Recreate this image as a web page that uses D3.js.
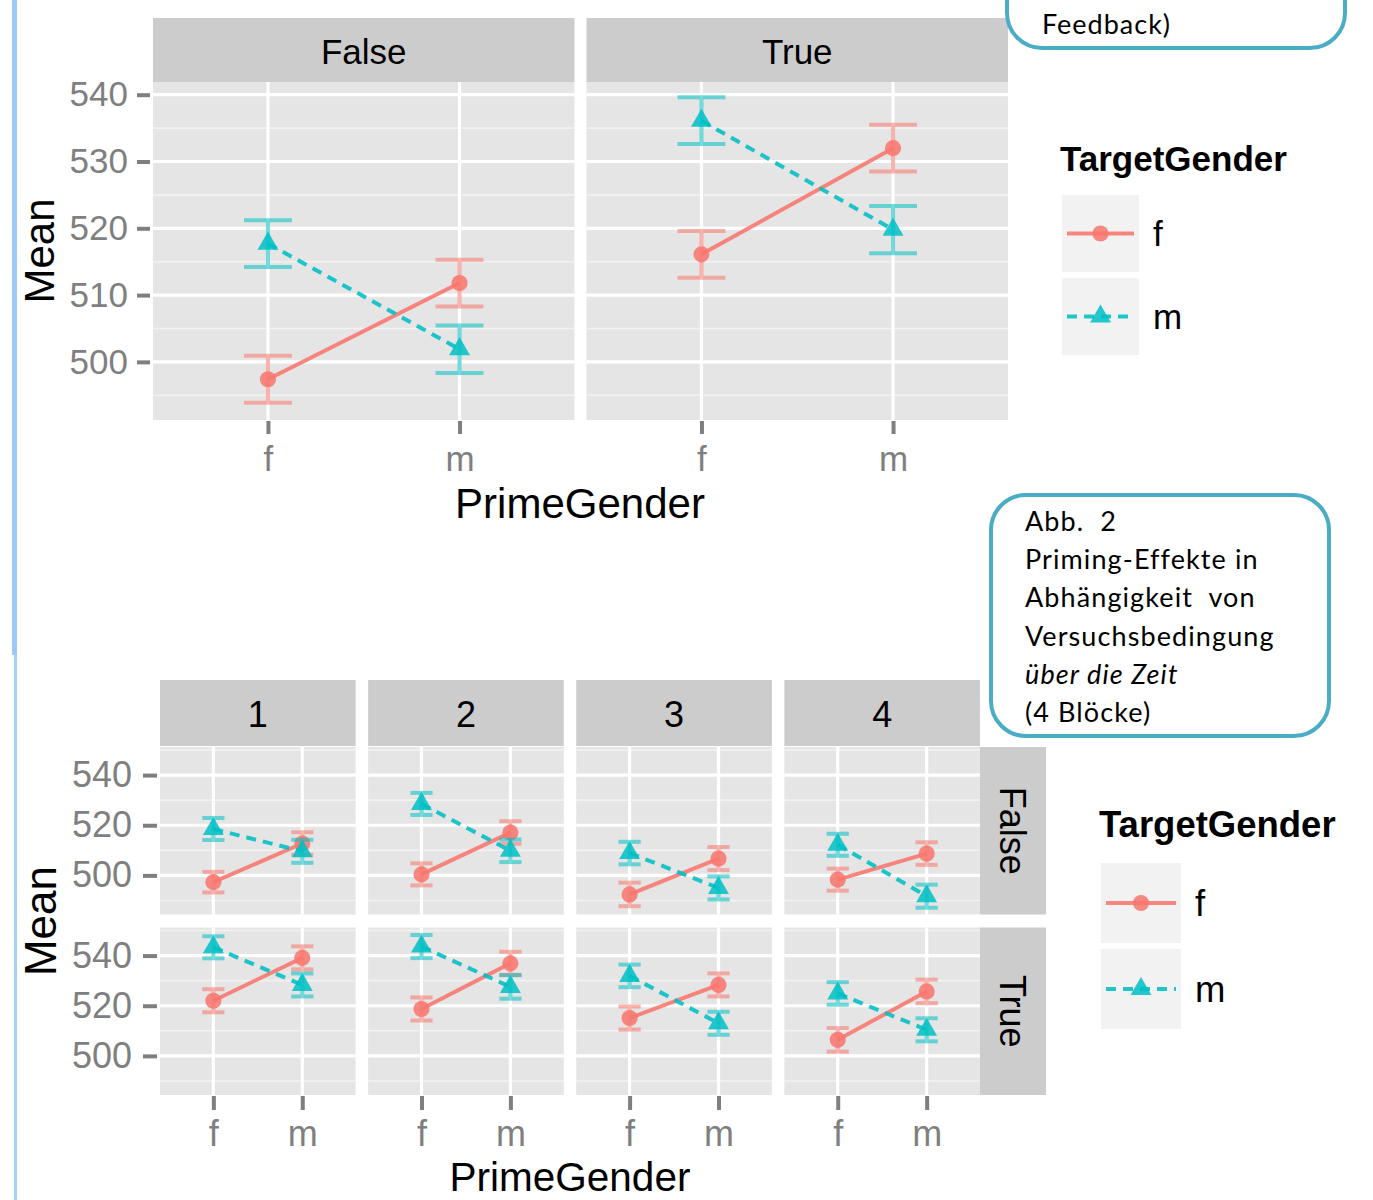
<!DOCTYPE html>
<html>
<head>
<meta charset="utf-8">
<script src="https://cdn.jsdelivr.net/npm/d3@7"></script>
<style>
body { margin: 0; background: #fff; }
svg text { font-family: 'Liberation Sans', Arial, sans-serif; }
</style>
</head>
<body>
<script>
// ---- data ----
var primeGender = ['f', 'm'];
var targetGender = ['f', 'm'];
var feedback = ['False', 'True'];
var blocks = ['1', '2', '3', '4'];

var topTicks = [500, 510, 520, 530, 540];
var topMinor = [495, 505, 515, 525, 535];
var bottomTicks = [500, 520, 540];
var bottomMinor = [490, 510, 530, 550];

// overall means, [feedback][primeGender]
var topMeanF = [[497.4, 511.8], [516.1, 532.0]];
var topMeanM = [[517.7, 501.9], [536.1, 519.8]];
var topErrF = [[3.5, 3.5], [3.5, 3.5]];
var topErrM = [[3.5, 3.55], [3.5, 3.55]];

// per block, [feedback][block][primeGender]
var blockMeanF = [
	[[497.3, 512.7], [500.4, 517.1], [492.4, 506.7], [498.3, 508.7]],
	[[522.0, 539.1], [518.7, 536.9], [515.1, 528.3], [506.4, 525.7]]
];
var blockMeanM = [
	[[518.5, 509.6], [528.5, 509.8], [508.9, 495.0], [512.2, 491.7]],
	[[543.3, 528.3], [543.6, 527.5], [531.9, 513.0], [524.9, 510.4]]
];
var blockErrF = [
	[[4.1, 4.5], [4.4, 4.5], [4.7, 4.6], [4.4, 4.5]],
	[[4.6, 4.6], [4.6, 4.6], [4.6, 4.6], [4.7, 4.7]]
];
var blockErrM = [
	[[4.4, 4.6], [4.4, 4.5], [4.5, 4.6], [4.4, 4.6]],
	[[4.4, 4.6], [4.6, 4.7], [4.5, 4.6], [4.5, 4.6]]
];

var topNote = ['Feedback)'];
var captionLines = ['Abb.  2', 'Priming-Effekte in', 'Abhängigkeit  von', 'Versuchsbedingung', 'über die Zeit', '(4 Blöcke)'];

// ---- setup ----
var colour = { f: '#F8766D', m: '#00BFC4' };
var axisGrey = '#7F7F7F';

var svg = d3.select('body')
	.append('svg')
		.attr('width', 1373)
		.attr('height', 1200);

// slide decoration on the left
svg.append('rect').attr('x', 12).attr('y', 0).attr('width', 5).attr('height', 655).attr('fill', '#9CC9F7');
svg.append('rect').attr('x', 14).attr('y', 655).attr('width', 3).attr('height', 545).attr('fill', '#A8D0F8');

// band scale with a fixed pixel gap between facets
function bands(domain, r0, r1, gap) {
	var p = gap * domain.length / (r1 - r0 + gap);
	return d3.scaleBand().domain(domain).range([r0, r1]).paddingInner(p);
}

function symbolFor(k) {
	return d3.symbol()
		.type(k == 'f' ? d3.symbolCircle : d3.symbolTriangle)
		.size(k == 'f' ? 205 : 190);
}

function drawPanel(g, x, y, w, major, minor, series, capHalf) {
	var h0 = y.range()[0], h1 = y.range()[1];
	g.append('rect')
		.attr('x', 0).attr('y', h1)
		.attr('width', w).attr('height', h0 - h1)
		.attr('fill', '#E5E5E5');

	g.selectAll('.minor').data(minor).enter().append('line')
		.attr('x1', 0).attr('x2', w)
		.attr('y1', d => y(d)).attr('y2', d => y(d))
		.attr('stroke', '#F2F2F2').attr('stroke-width', 1.6);

	g.selectAll('.major').data(major).enter().append('line')
		.attr('x1', 0).attr('x2', w)
		.attr('y1', d => y(d)).attr('y2', d => y(d))
		.attr('stroke', '#fff').attr('stroke-width', 3.2);

	g.selectAll('.vgrid').data(primeGender).enter().append('line')
		.attr('x1', d => x(d)).attr('x2', d => x(d))
		.attr('y1', h1).attr('y2', h0)
		.attr('stroke', '#fff').attr('stroke-width', 3.2);

	series.forEach(function(s) {
		var pts = primeGender.map((p, i) => ({ p: p, mean: s.mean[i], err: s.err[i] }));
		var c = colour[s.key];

		var eb = g.append('g').attr('opacity', 0.55);
		pts.forEach(function(d) {
			var cx = x(d.p);
			eb.append('line')
				.attr('x1', cx).attr('x2', cx)
				.attr('y1', y(d.mean - d.err)).attr('y2', y(d.mean + d.err))
				.attr('stroke', c).attr('stroke-width', 4);
			[d.mean - d.err, d.mean + d.err].forEach(function(v) {
				eb.append('line')
					.attr('x1', cx - capHalf).attr('x2', cx + capHalf)
					.attr('y1', y(v)).attr('y2', y(v))
					.attr('stroke', c).attr('stroke-width', 4);
			});
		});

		g.append('path')
			.datum(pts)
			.attr('d', d3.line().x(d => x(d.p)).y(d => y(d.mean)))
			.attr('fill', 'none')
			.attr('stroke', c)
			.attr('stroke-opacity', 0.88)
			.attr('stroke-width', 4)
			.attr('stroke-dasharray', s.key == 'm' ? '10,7' : null);

		g.selectAll('.pt-' + s.key).data(pts).enter().append('path')
			.attr('transform', d => `translate(${x(d.p)}, ${y(d.mean)})`)
			.attr('d', symbolFor(s.key))
			.attr('fill', c)
			.attr('fill-opacity', 0.85);
	});
}

function styleAxis(sel, size) {
	sel.select('.domain').remove();
	sel.selectAll('.tick line').attr('stroke', axisGrey).attr('stroke-width', 4);
	sel.selectAll('.tick text')
		.attr('fill', axisGrey)
		.style('font-size', size + 'px')
		.style('font-family', "'Liberation Sans', Arial, sans-serif");
}

function drawLegend(x0, titleY, keyTop, keySize, keyGap, labelX, size) {
	svg.append('text')
		.attr('x', x0).attr('y', titleY)
		.style('font-size', size + 'px').style('font-weight', 'bold')
		.text('TargetGender');
	targetGender.forEach(function(k, i) {
		var ky = keyTop + i * (keySize + keyGap);
		var kx = x0 + 2;
		svg.append('rect')
			.attr('x', kx).attr('y', ky)
			.attr('width', keySize).attr('height', keySize)
			.attr('fill', '#F2F2F2');
		var cy = ky + keySize / 2;
		svg.append('line')
			.attr('x1', kx + 5).attr('x2', kx + keySize - 5)
			.attr('y1', cy).attr('y2', cy)
			.attr('stroke', colour[k]).attr('stroke-width', 4)
			.attr('stroke-opacity', 0.88)
			.attr('stroke-dasharray', k == 'm' ? '10,7' : null);
		svg.append('path')
			.attr('transform', `translate(${kx + keySize / 2}, ${cy})`)
			.attr('d', symbolFor(k))
			.attr('fill', colour[k]).attr('fill-opacity', 0.85);
		svg.append('text')
			.attr('x', labelX).attr('y', cy)
			.attr('dy', '0.36em')
			.style('font-size', size + 'px')
			.text(k);
	});
}

// ---- top chart: facet by feedback ----
var topCols = bands(feedback, 153, 1008, 12);
var topY = d3.scaleLinear().domain([491.3, 541.9]).range([420, 82]);
var topX = d3.scalePoint().domain(primeGender).range([0, topCols.bandwidth()]).padding(0.6);

feedback.forEach(function(fb, i) {
	var left = topCols(fb);
	svg.append('rect')
		.attr('x', left).attr('y', 18)
		.attr('width', topCols.bandwidth()).attr('height', 64)
		.attr('fill', '#CCCCCC');
	svg.append('text')
		.attr('x', left + topCols.bandwidth() / 2).attr('y', 51)
		.attr('dy', '0.36em').attr('text-anchor', 'middle')
		.style('font-size', '35px')
		.text(fb);

	var g = svg.append('g').attr('transform', `translate(${left}, 0)`);
	drawPanel(g, topX, topY, topCols.bandwidth(), topTicks, topMinor, [
		{ key: 'f', mean: topMeanF[i], err: topErrF[i] },
		{ key: 'm', mean: topMeanM[i], err: topErrM[i] }
	], topX.step() * 0.125);

	svg.append('g')
		.attr('transform', `translate(${left}, 421)`)
		.call(d3.axisBottom(topX).tickSize(13).tickPadding(12))
		.call(a => styleAxis(a, 35));
});

svg.append('g')
	.attr('transform', 'translate(150, 0)')
	.call(d3.axisLeft(topY).tickValues(topTicks).tickSize(13).tickPadding(9))
	.call(a => styleAxis(a, 35));

svg.append('text')
	.attr('x', 580).attr('y', 518)
	.attr('text-anchor', 'middle')
	.style('font-size', '42px')
	.text('PrimeGender');

svg.append('text')
	.attr('transform', 'translate(54, 251) rotate(-90)')
	.attr('text-anchor', 'middle')
	.style('font-size', '42px')
	.text('Mean');

drawLegend(1060, 171, 195, 77, 6, 1153, 35);

// ---- bottom chart: facet by block x feedback ----
var botCols = bands(blocks, 160, 980, 12.5);
var botRows = bands(feedback, 747, 1095, 13);
var botX = d3.scalePoint().domain(primeGender).range([0, botCols.bandwidth()]).padding(0.6);

blocks.forEach(function(b) {
	var left = botCols(b);
	svg.append('rect')
		.attr('x', left).attr('y', 680)
		.attr('width', botCols.bandwidth()).attr('height', 66)
		.attr('fill', '#CCCCCC');
	svg.append('text')
		.attr('x', left + botCols.bandwidth() / 2).attr('y', 714)
		.attr('dy', '0.36em').attr('text-anchor', 'middle')
		.style('font-size', '36px')
		.text(b);
});

feedback.forEach(function(fb, r) {
	var top = botRows(fb);
	var y = d3.scaleLinear().domain([484.4, 551.2]).range([top + botRows.bandwidth(), top]);

	svg.append('rect')
		.attr('x', 980).attr('y', top)
		.attr('width', 66).attr('height', botRows.bandwidth())
		.attr('fill', '#CCCCCC');
	svg.append('text')
		.attr('transform', `translate(1013, ${top + botRows.bandwidth() / 2}) rotate(90)`)
		.attr('dy', '0.36em').attr('text-anchor', 'middle')
		.style('font-size', '36px')
		.text(fb);

	blocks.forEach(function(b, c) {
		var g = svg.append('g').attr('transform', `translate(${botCols(b)}, 0)`);
		drawPanel(g, botX, y, botCols.bandwidth(), bottomTicks, bottomMinor, [
			{ key: 'f', mean: blockMeanF[r][c], err: blockErrF[r][c] },
			{ key: 'm', mean: blockMeanM[r][c], err: blockErrM[r][c] }
		], botX.step() * 0.125);
	});

	svg.append('g')
		.attr('transform', 'translate(157, 0)')
		.call(d3.axisLeft(y).tickValues(bottomTicks).tickSize(14).tickPadding(11))
		.call(a => styleAxis(a, 36));
});

blocks.forEach(function(b) {
	svg.append('g')
		.attr('transform', `translate(${botCols(b)}, 1096)`)
		.call(d3.axisBottom(botX).tickSize(14).tickPadding(10))
		.call(a => styleAxis(a, 36));
});

svg.append('text')
	.attr('x', 570).attr('y', 1191)
	.attr('text-anchor', 'middle')
	.style('font-size', '40.5px')
	.text('PrimeGender');

svg.append('text')
	.attr('transform', 'translate(56, 921) rotate(-90)')
	.attr('text-anchor', 'middle')
	.style('font-size', '44px')
	.text('Mean');

drawLegend(1099, 837, 863, 80, 6, 1195, 36.5);

// ---- slide text boxes ----
svg.append('rect')
	.attr('x', 1007).attr('y', -200)
	.attr('width', 338).attr('height', 248)
	.attr('rx', 35)
	.attr('fill', '#fff').attr('stroke', '#4BACC6').attr('stroke-width', 4);
svg.selectAll('.note').data(topNote).enter().append('text')
	.attr('x', 1042).attr('y', 34)
	.style('font-family', 'Lato, sans-serif')
	.style('font-size', '27px')
	.style('letter-spacing', '1px')
	.text(d => d);

svg.append('rect')
	.attr('x', 991).attr('y', 495)
	.attr('width', 338).attr('height', 241)
	.attr('rx', 35)
	.attr('fill', '#fff').attr('stroke', '#4BACC6').attr('stroke-width', 4);
svg.selectAll('.caption').data(captionLines).enter().append('text')
	.attr('x', 1025).attr('y', (d, i) => 531 + 38.2 * i)
	.style('font-family', 'Lato, sans-serif')
	.style('font-size', '27px')
	.style('letter-spacing', '1.1px')
	.style('white-space', 'pre')
	.style('font-style', d => d.startsWith('über') ? 'italic' : 'normal')
	.text(d => d);
</script>
</body>
</html>
